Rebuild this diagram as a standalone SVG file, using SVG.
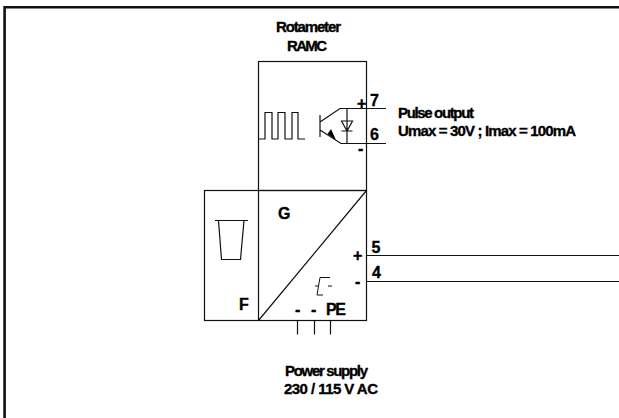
<svg xmlns="http://www.w3.org/2000/svg" width="619" height="418" viewBox="0 0 619 418">
<style>
.l{fill:none;stroke:#111;stroke-width:1.2}
.t{font-family:"Liberation Sans",Arial,sans-serif;font-weight:bold;fill:#000;stroke:#000;stroke-width:.35}
.s{font-size:15px}
.m{font-size:16px}
</style>
<rect width="619" height="418" fill="#fff"/>
<g id="frame"><path d="M4.600 418V7.300H619" fill="none" stroke="#111" stroke-width="2.600"/></g>
<g id="rotameter-label"><text class="t s" x="276" y="32" textLength="65">Rotameter</text><text class="t s" x="287" y="51" textLength="40">RAMC</text></g>
<g id="pulse-module">
<rect class="l" x="258.500" y="61.500" width="108" height="129"/>
<path class="l" d="M258.500 139H265V112.500H272V139H278V112.500H285V139H292V112.500H298V139H305"/>
<path class="l" d="M320 115V137M320 122L340 108.500H386M320 130L341 143.500H386M347 108.500V143.500M341.500 121H352.500L347 131ZM341.500 131H352.500"/>
<path d="M336 140L327.500 134L331 129Z" fill="#000"/>
<text class="t m" x="357" y="108.500">+</text><text class="t m" x="370" y="105.500">7</text>
<text class="t m" x="370" y="140">6</text><text class="t m" x="358" y="154">-</text>
</g>
<g id="pulse-label"><text class="t s" x="398" y="118" textLength="76">Pulse output</text><text class="t s" x="398" y="136" textLength="178">Umax = 30V ; Imax = 100mA</text></g>
<g id="converter">
<rect class="l" x="204.500" y="190.500" width="162" height="130"/>
<path class="l" d="M258.500 190.500V320.500M258.500 320.500L366.500 190.500"/>
<path class="l" d="M215 220.500H248M218.500 220.500L221.500 259.500H240.500L244 220.500"/>
<text class="t m" x="278" y="219">G</text><text class="t m" x="239" y="310">F</text>
<path class="l" d="M330 277.500H320L317 295H323M315 286H318M328 286H332" style="stroke-width:1"/>
<text class="t m" x="295" y="315">-</text><text class="t m" x="311" y="315">-</text><text class="t m" x="326" y="315" textLength="20">PE</text>
<text class="t m" x="353" y="261">+</text><text class="t m" x="355" y="287">-</text>
<text class="t m" x="371.500" y="253">5</text><text class="t m" x="372" y="278">4</text>
</g>
<g id="connectors">
<path class="l" d="M366.500 255.500H619M366.500 281.500H619M297.500 320.500V334.500M314.500 320.500V334.500M330.500 320.500V334.500"/>
</g>
<g id="power-label"><text class="t s" x="285" y="376" textLength="83">Power supply</text><text class="t s" x="284" y="394" textLength="94">230 / 115 V AC</text></g>
</svg>
